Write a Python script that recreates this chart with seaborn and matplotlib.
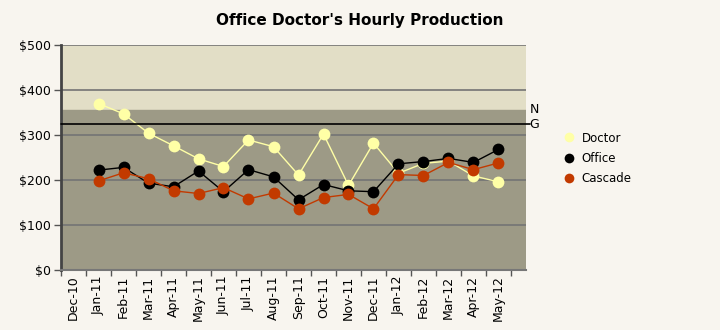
import numpy as np
import pandas as pd
import matplotlib
matplotlib.use("Agg")
import matplotlib.pyplot as plt
from matplotlib.lines import Line2D
import seaborn as sns

months = ["Dec-10", "Jan-11", "Feb-11", "Mar-11", "Apr-11", "May-11", "Jun-11",
          "Jul-11", "Aug-11", "Sep-11", "Oct-11", "Nov-11", "Dec-11", "Jan-12",
          "Feb-12", "Mar-12", "Apr-12", "May-12"]
doctor = [np.nan, 370, 347, 304, 276, 247, 230, 289, 274, 211, 302, 188, 282,
          215, 237, 242, 209, 196]
office = [np.nan, 222, 228, 193, 185, 220, 174, 223, 207, 156, 190, 176, 174,
          236, 241, 248, 239, 268]
cascade = [np.nan, 198, 216, 203, 176, 170, 183, 158, 171, 136, 161, 168, 136,
           212, 210, 239, 223, 238]
series_names = ["Doctor", "Office", "Cascade"]
colors = ["#FFFFA6", "#000000", "#C23A00"]
goal_value = 324
band_value = 356
y_ticks = [0, 100, 200, 300, 400, 500]

sns.set_theme(style="white")
plt.rcParams["font.family"] = ["DejaVu Sans"]
plt.rcParams["text.color"] = "black"
plt.rcParams["xtick.labelcolor"] = "black"
plt.rcParams["ytick.labelcolor"] = "black"

rows = []
for name, vals in zip(series_names, [doctor, office, cascade]):
    for i, v in enumerate(vals):
        if not np.isnan(v):
            rows.append({"idx": i, "value": v, "series": name})
df = pd.DataFrame(rows)

bg = "#F8F5EF"
fig = plt.figure(figsize=(7.2, 3.3), dpi=100, facecolor=bg)
ax = fig.add_axes([61 / 720, 60 / 330, 465 / 720, 225 / 330])

# shaded bands behind the lines
ax.axhspan(band_value, 500, color="#E2DEC6", zorder=0)
ax.axhspan(0, band_value, color="#9D9A86", zorder=0)
for t in y_ticks[1:]:
    ax.axhline(t, color="#747474", lw=1.2, zorder=1)

sns.lineplot(data=df, x="idx", y="value", hue="series", hue_order=series_names,
             palette=colors, marker="o", markersize=8.5, markeredgewidth=0,
             linewidth=1, legend=False, ax=ax, zorder=3)

ax.set_xlim(-0.5, 18.1)
ax.set_ylim(0, 500)

# goal line and its right-side labels
ax.plot([-0.5, 18.25], [goal_value, goal_value], color="black", lw=1.2,
        clip_on=False, zorder=4)
ax.text(18.25, band_value, "N", fontsize=9, ha="left", va="center")
ax.text(18.25, goal_value, "G", fontsize=9, ha="left", va="center")

ax.set_yticks(y_ticks)
ax.set_yticklabels([f"${v}" for v in y_ticks], fontsize=9)
ax.set_xticks(range(len(months)))
ax.set_xticklabels(months, rotation=90, fontsize=9)
ax.set_xticks(np.arange(-0.5, 18.0, 1.0), minor=True)
ax.tick_params(axis="x", which="major", length=0, pad=4)
ax.tick_params(axis="x", which="minor", length=4, width=1, color="#555555",
               direction="out", bottom=True)
ax.tick_params(axis="y", length=5, width=1, color="#555555", direction="out",
               left=True, pad=2)
ax.set_xlabel("")
ax.set_ylabel("")

for s in ["top", "right"]:
    ax.spines[s].set_visible(False)
ax.spines["left"].set_color("#444444")
ax.spines["left"].set_linewidth(2)
ax.spines["bottom"].set_color("#777777")
ax.spines["bottom"].set_linewidth(1.5)

fig.text(0.5, 1 - 20 / 330, "Office Doctor's Hourly Production",
         ha="center", va="center", fontsize=11, fontweight="bold",
         color="black")

handles = [Line2D([], [], linestyle="none", marker="o", markersize=7,
                  markerfacecolor=c, markeredgewidth=0) for c in colors]
fig.legend(handles, series_names, loc="upper left",
           bbox_to_anchor=(551 / 720, 1 - 121 / 330), frameon=False,
           fontsize=8.5, handletextpad=0.5, labelspacing=0.62,
           handlelength=1.2)

fig.savefig("out.png", dpi=100, facecolor=bg)
